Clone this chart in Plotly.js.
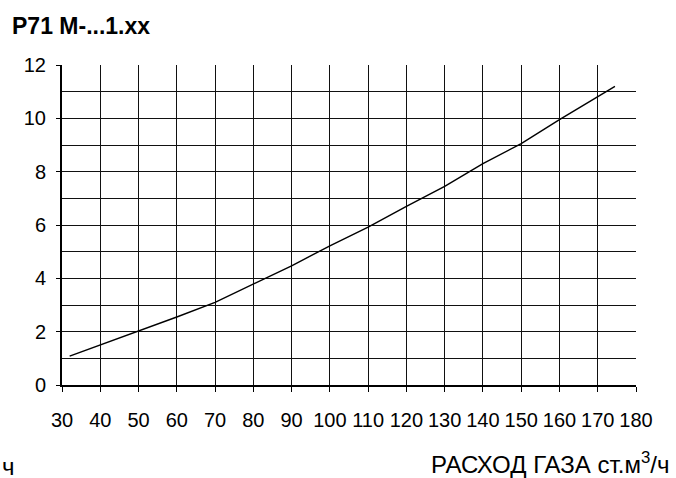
<!DOCTYPE html>
<html>
<head>
<meta charset="utf-8">
<script src="https://cdn.plot.ly/plotly-3.0.1.min.js"></script>
<style>html,body{margin:0;padding:0;background:#fff;}#chart{width:676px;height:478px;}</style>
</head>
<body>
<div id="chart"></div>
<script>
// Data
const flowValues = [32, 40, 50, 60, 70, 80, 90, 100, 110, 120, 130, 140, 150, 160, 170, 174.5];
const pressureValues = [1.08, 1.5, 2.0, 2.55, 3.1, 3.78, 4.47, 5.22, 5.92, 6.7, 7.45, 8.3, 9.05, 9.95, 10.8, 11.2];
const xTickValues = [30, 40, 50, 60, 70, 80, 90, 100, 110, 120, 130, 140, 150, 160, 170, 180];
const yTickValues = [0, 2, 4, 6, 8, 10, 12];
const chartTitle = "P71 M-...1.xx";
const xAxisTitle = "РАСХОД ГАЗА ст.м<sup>3</sup>/ч";
const yAxisFragment = "ч";

const FONT = "Liberation Sans, Arial, sans-serif";
const W = 676, H = 478;
const m = {l: 62, r: 40, t: 65, b: 93};
const pw = W - m.l - m.r, ph = H - m.t - m.b;
const px = v => (v - m.l) / pw;
const py = v => (H - m.b - v) / ph;

const trace = {
  x: flowValues, y: pressureValues, type: 'scatter', mode: 'lines',
  line: {color: '#000', width: 1.4}, hoverinfo: 'skip'
};

const layout = {
  width: W, height: H, margin: m,
  paper_bgcolor: '#fff', plot_bgcolor: '#fff',
  showlegend: false,
  font: {family: FONT, color: '#000', size: 20},
  xaxis: {
    range: [30, 180], tickvals: xTickValues, ticktext: xTickValues.map(String),
    showgrid: true, gridcolor: '#111', gridwidth: 1,
    showline: true, linecolor: '#000', linewidth: 2,
    ticks: 'outside', ticklen: 5, tickcolor: '#000', tickwidth: 1,
    ticklabelstandoff: 11,
    tickfont: {family: FONT, size: 20, color: '#000'},
    zeroline: false, fixedrange: true
  },
  yaxis: {
    range: [0, 12], tickvals: yTickValues, ticktext: yTickValues.map(String),
    showgrid: true, gridcolor: '#111', gridwidth: 1,
    minor: {dtick: 1, showgrid: true, gridcolor: '#111', gridwidth: 1, ticks: ''},
    showline: true, linecolor: '#000', linewidth: 2,
    ticks: 'outside', ticklen: 4, tickcolor: '#000', tickwidth: 1,
    ticklabelstandoff: 6,
    tickfont: {family: FONT, size: 20, color: '#000'},
    zeroline: false, fixedrange: true
  },
  annotations: [
    {text: '<b>' + chartTitle + '</b>', xref: 'paper', yref: 'paper',
     x: px(10), y: py(26), xanchor: 'left', yanchor: 'middle', showarrow: false,
     font: {family: FONT, size: 23, color: '#000'}},
    {text: xAxisTitle, xref: 'paper', yref: 'paper',
     x: px(671), y: py(463), xanchor: 'right', yanchor: 'middle', showarrow: false,
     font: {family: FONT, size: 24, color: '#000'}},
    {text: yAxisFragment, xref: 'paper', yref: 'paper',
     x: px(0), y: py(466), xanchor: 'left', yanchor: 'middle', showarrow: false,
     font: {family: FONT, size: 24, color: '#000'}}
  ]
};

Plotly.newPlot('chart', [trace], layout, {displayModeBar: false, staticPlot: true});
</script>
</body>
</html>
